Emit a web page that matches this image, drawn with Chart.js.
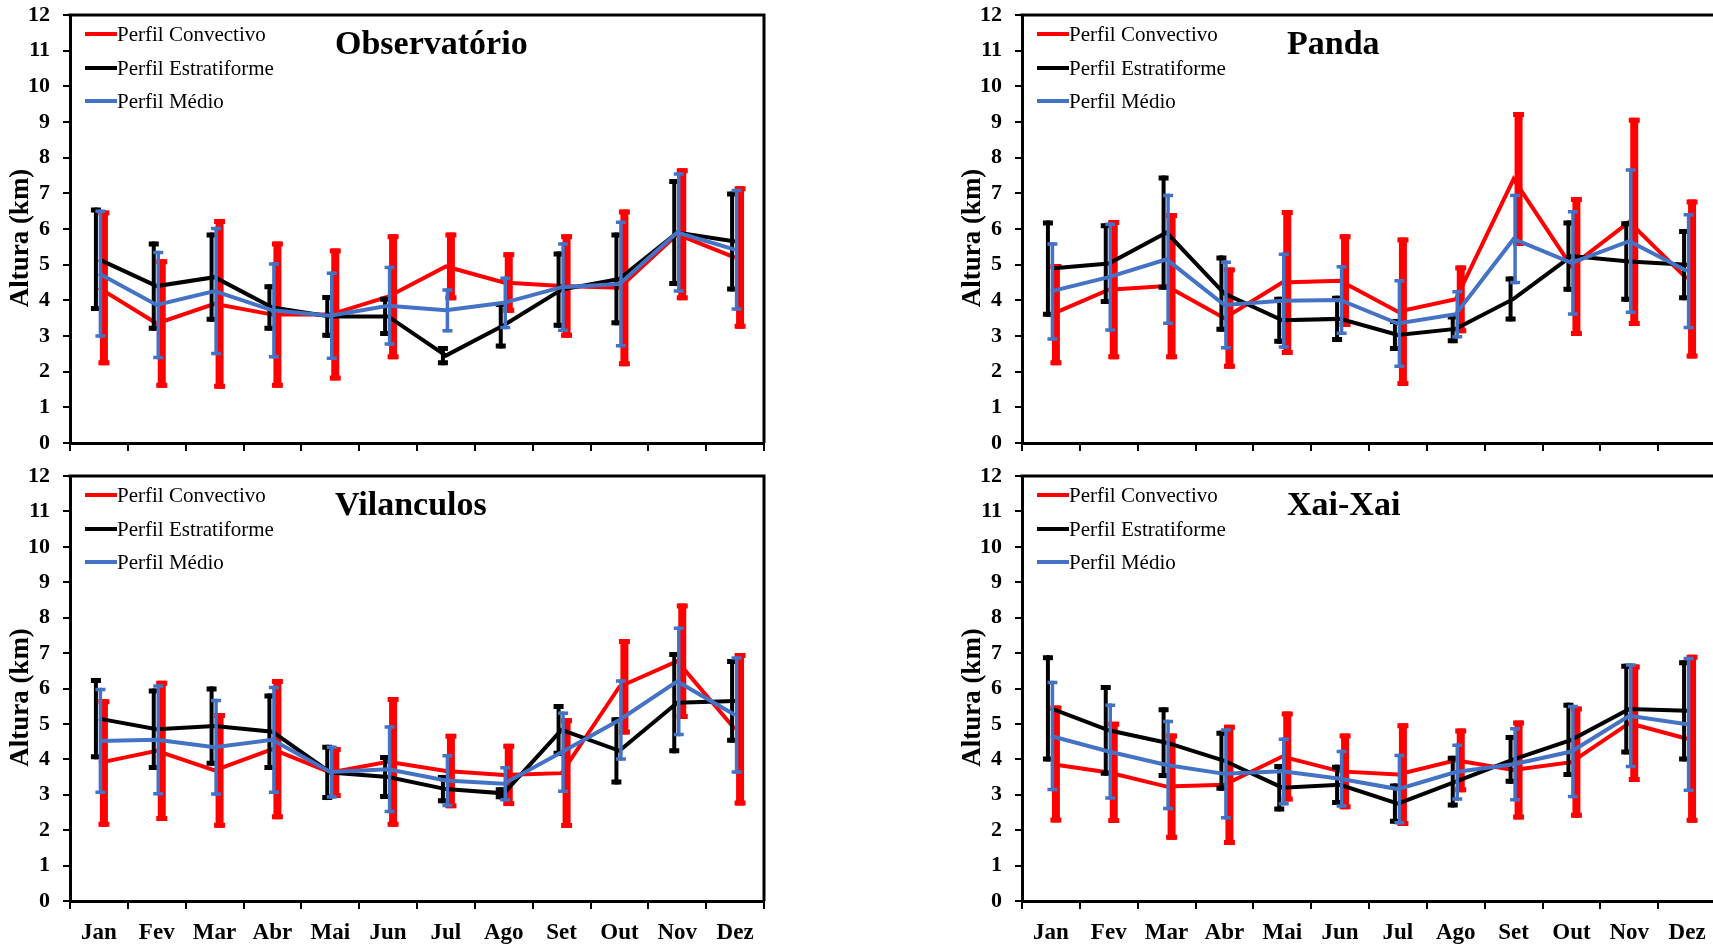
<!DOCTYPE html>
<html>
<head>
<meta charset="utf-8">
<script src="https://cdn.jsdelivr.net/npm/chart.js@4.4.1/dist/chart.umd.min.js"></script>
<style>
  html, body { margin: 0; padding: 0; background: #fff; overflow: hidden; width: 1713px; height: 944px; }
  .box { position: absolute; width: 780px; }
</style>
</head>
<body>
<div class="box" style="left:0px;top:0px;height:460px"><canvas id="obs" width="780" height="460"></canvas></div>
<div class="box" style="left:952px;top:0px;height:460px"><canvas id="pan" width="780" height="460"></canvas></div>
<div class="box" style="left:0px;top:460px;height:484px"><canvas id="vil" width="780" height="484"></canvas></div>
<div class="box" style="left:952px;top:460px;height:484px"><canvas id="xai" width="780" height="484"></canvas></div>
<script>
var meses = ['Jan', 'Fev', 'Mar', 'Abr', 'Mai', 'Jun', 'Jul', 'Ago', 'Set', 'Out', 'Nov', 'Dez'];

// Observatório
var obsConv = [4.35, 3.35, 3.9, 3.6, 3.6, 4.1, 4.95, 4.5, 4.4, 4.35, 5.85, 5.2];
var obsConvErr = [2.17, 1.8, 2.38, 2.05, 1.85, 1.75, 0.95, 0.85, 1.45, 2.2, 1.85, 2.0];
var obsEstr = [5.15, 4.4, 4.65, 3.8, 3.55, 3.55, 2.45, 3.3, 4.3, 4.6, 5.9, 5.65];
var obsEstrErr = [1.45, 1.25, 1.25, 0.65, 0.6, 0.55, 0.27, 0.65, 1.07, 1.3, 1.5, 1.4];
var obsMed = [4.75, 3.87, 4.26, 3.72, 3.57, 3.85, 3.72, 3.93, 4.37, 4.46, 5.9, 5.42];
var obsMedErr = [1.8, 1.52, 1.8, 1.35, 1.24, 1.12, 0.62, 0.74, 1.26, 1.78, 1.69, 1.71];

// Panda
var panConv = [3.6, 4.3, 4.4, 3.5, 4.5, 4.55, 3.68, 4.03, 7.4, 4.95, 6.2, 4.6];
var panConvErr = [1.42, 1.95, 2.05, 1.42, 2.03, 1.3, 2.08, 0.95, 1.88, 1.95, 2.92, 2.23];
var panEstr = [4.89, 5.03, 5.9, 4.19, 3.44, 3.48, 3.03, 3.2, 4.04, 5.24, 5.09, 5.0];
var panEstrErr = [1.35, 1.13, 1.6, 1.07, 0.66, 0.65, 0.45, 0.4, 0.63, 1.0, 1.13, 1.0];
var panMed = [4.25, 4.65, 5.15, 3.87, 3.99, 4.01, 3.35, 3.61, 5.72, 5.05, 5.66, 4.82];
var panMedErr = [1.38, 1.53, 1.84, 1.25, 1.35, 0.98, 1.25, 0.68, 1.27, 1.48, 2.04, 1.63];

// Vilanculos
var vilConv = [3.9, 4.24, 3.69, 4.29, 3.63, 3.93, 3.67, 3.56, 3.61, 6.05, 6.77, 4.85];
var vilConvErr = [1.8, 1.98, 1.62, 1.98, 0.72, 1.83, 1.05, 0.88, 1.55, 1.35, 1.63, 2.15];
var vilEstr = [5.15, 4.85, 4.94, 4.78, 3.63, 3.5, 3.16, 3.04, 4.83, 4.24, 5.6, 5.65];
var vilEstrErr = [1.15, 1.15, 1.12, 1.08, 0.78, 0.62, 0.4, 0.17, 0.73, 0.95, 1.43, 1.18];
var vilMed = [4.52, 4.55, 4.34, 4.55, 3.64, 3.72, 3.4, 3.31, 4.2, 5.11, 6.2, 5.25];
var vilMedErr = [1.5, 1.57, 1.37, 1.53, 0.75, 1.24, 0.75, 0.5, 1.15, 1.15, 1.55, 1.66];

// Xai-Xai
var xaiConv = [3.87, 3.63, 3.23, 3.28, 4.08, 3.66, 3.57, 3.97, 3.7, 3.92, 5.02, 4.58];
var xaiConvErr = [1.65, 1.43, 1.5, 1.7, 1.27, 1.07, 1.45, 0.9, 1.4, 1.57, 1.66, 2.37];
var xaiEstr = [5.44, 4.82, 4.47, 3.96, 3.2, 3.28, 2.75, 3.37, 4.0, 4.55, 5.42, 5.37];
var xaiEstrErr = [1.5, 1.28, 1.0, 0.85, 0.67, 0.57, 0.57, 0.73, 0.69, 1.05, 1.28, 1.43];
var xaiMed = [4.66, 4.22, 3.84, 3.59, 3.66, 3.45, 3.16, 3.64, 3.86, 4.22, 5.23, 4.99];
var xaiMedErr = [1.56, 1.36, 1.28, 1.29, 0.96, 0.82, 1.0, 0.81, 1.05, 1.32, 1.48, 1.91];

var serif = "'Liberation Serif', 'Times New Roman', serif";
var RED = '#ff0000', BLACK = '#000000', BLUE = '#4472c4';

// error bars drawn right after each series, like excel does
var errorBars = {
  id: 'errorBars',
  afterDatasetDraw: function (chart, args) {
    var ds = chart.data.datasets[args.index];
    if (!ds.errors) return;
    var ctx = chart.ctx;
    var y = chart.scales.y;
    var st = ds.errStyle;
    ctx.save();
    ctx.strokeStyle = ds.borderColor;
    ctx.lineCap = 'butt';
    args.meta.data.forEach(function (pt, i) {
      var x = pt.x + st.dx;
      var hi = y.getPixelForValue(ds.data[i] + ds.errors[i]);
      var lo = y.getPixelForValue(ds.data[i] - ds.errors[i]);
      ctx.lineWidth = st.bar;
      ctx.beginPath();
      ctx.moveTo(x, hi);
      ctx.lineTo(x, lo);
      ctx.stroke();
      ctx.lineWidth = st.capW;
      ctx.beginPath();
      ctx.moveTo(x - st.cap / 2, hi + st.capW / 2);
      ctx.lineTo(x + st.cap / 2, hi + st.capW / 2);
      ctx.moveTo(x - st.cap / 2, lo - st.capW / 2);
      ctx.lineTo(x + st.cap / 2, lo - st.capW / 2);
      ctx.stroke();
    });
    ctx.restore();
  }
};

var frameAndLegend = {
  id: 'frameAndLegend',
  afterDraw: function (chart) {
    var ctx = chart.ctx;
    var a = chart.chartArea;
    ctx.save();
    // top and right border of the plot
    ctx.strokeStyle = '#000';
    ctx.lineWidth = 3;
    ctx.beginPath();
    ctx.moveTo(a.left - 1.5, a.top);
    ctx.lineTo(a.right, a.top);
    ctx.lineTo(a.right, a.bottom);
    ctx.stroke();

    // legend inside plot
    var rows = [19, 53, 86];
    ctx.font = '21px ' + serif;
    ctx.fillStyle = '#000';
    ctx.textBaseline = 'alphabetic';
    chart.data.datasets.forEach(function (ds, r) {
      ctx.strokeStyle = ds.borderColor;
      ctx.lineWidth = 4;
      ctx.beginPath();
      ctx.moveTo(a.left + 15, a.top + rows[r]);
      ctx.lineTo(a.left + 47, a.top + rows[r]);
      ctx.stroke();
      ctx.fillText(ds.label, a.left + 47, a.top + rows[r] + 7);
    });

    // station name
    ctx.font = 'bold 34px ' + serif;
    ctx.fillText(chart.options.plugins.station, a.left + 265, a.top + 39);

    // y axis title, sits a bit below the middle like in the original
    ctx.translate(21, (a.top + a.bottom) / 2 + 9);
    ctx.rotate(-Math.PI / 2);
    ctx.font = 'bold 27px ' + serif;
    ctx.textAlign = 'center';
    ctx.textBaseline = 'middle';
    ctx.fillText('Altura (km)', 0, 0);
    ctx.restore();
  }
};

function makeChart(id, nome, conv, convErr, estr, estrErr, med, medErr, showLabels) {
  var ctx = document.getElementById(id);
  return new Chart(ctx, {
    type: 'line',
    data: {
      labels: meses,
      datasets: [
        { label: 'Perfil Convectivo', data: conv, errors: convErr, borderColor: RED, backgroundColor: RED,
          borderWidth: 4, pointRadius: 0, tension: 0, order: 3,
          errStyle: { dx: 5, bar: 8, cap: 11, capW: 5 } },
        { label: 'Perfil Estratiforme', data: estr, errors: estrErr, borderColor: BLACK, backgroundColor: BLACK,
          borderWidth: 4, pointRadius: 0, tension: 0, order: 2,
          errStyle: { dx: -3, bar: 4, cap: 10, capW: 5 } },
        { label: 'Perfil Médio', data: med, errors: medErr, borderColor: BLUE, backgroundColor: BLUE,
          borderWidth: 4, pointRadius: 0, tension: 0, order: 1,
          errStyle: { dx: 1.5, bar: 3.5, cap: 10, capW: 3.5 } }
      ]
    },
    options: {
      responsive: false,
      animation: false,
      layout: { padding: { top: showLabels ? 16 : 15, right: 16, left: 0, bottom: 0 } },
      plugins: {
        legend: { display: false },
        tooltip: { enabled: false },
        station: nome
      },
      scales: {
        x: {
          offset: true,
          afterFit: function (s) {
            s.height = showLabels ? 43 : 17;
            s.paddingLeft = 0;
            s.paddingRight = 0;
          },
          grid: { display: true, drawOnChartArea: false, offset: true, tickLength: 8, color: '#000', lineWidth: 2 },
          border: { display: true, color: '#000', width: 3 },
          ticks: { display: showLabels, color: '#000', padding: 10, maxRotation: 0,
                   font: { family: serif, size: 23, weight: 'bold' } }
        },
        y: {
          min: 0,
          max: 12,
          afterFit: function (s) {
            s.width = 70;
            s.paddingTop = 0;
            s.paddingBottom = 0;
          },
          grid: { drawOnChartArea: false, tickLength: 7, color: '#000', lineWidth: 2 },
          border: { display: true, color: '#000', width: 3 },
          ticks: { stepSize: 1, color: '#000', padding: 13,
                   font: { family: serif, size: 22, weight: 'bold' } }
        }
      }
    },
    plugins: [errorBars, frameAndLegend]
  });
}

makeChart('obs', 'Observatório', obsConv, obsConvErr, obsEstr, obsEstrErr, obsMed, obsMedErr, false);
makeChart('pan', 'Panda', panConv, panConvErr, panEstr, panEstrErr, panMed, panMedErr, false);
makeChart('vil', 'Vilanculos', vilConv, vilConvErr, vilEstr, vilEstrErr, vilMed, vilMedErr, true);
makeChart('xai', 'Xai-Xai', xaiConv, xaiConvErr, xaiEstr, xaiEstrErr, xaiMed, xaiMedErr, true);
</script>
</body>
</html>
